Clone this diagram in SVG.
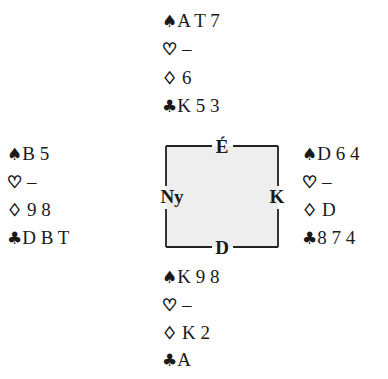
<svg xmlns="http://www.w3.org/2000/svg" width="388" height="379" viewBox="0 0 388 379">
<style>
.h{font-family:"Liberation Serif","Times New Roman",serif;font-size:19px;fill:#1a1a1a;}
.s{font-family:"DejaVu Sans",sans-serif;font-size:17px;}
.o{font-family:"DejaVu Sans",sans-serif;font-size:17px;stroke:#1a1a1a;stroke-width:0.9;}
.lbl{font-family:"Liberation Serif","Times New Roman",serif;font-size:19px;font-weight:bold;fill:#1a1a1a;text-anchor:middle;}
.edge{stroke:#222;stroke-width:1.8;fill:none;}
</style>
<rect width="388" height="379" fill="#ffffff"/>
<g id="table">
<rect x="166" y="146" width="112" height="101" fill="#eeeeee"/>
</g>
<g id="connectors">
<path class="edge" d="M166 146H212M233 146H278M278 146V186M278 209V247M278 247H233M212 247H166M166 247V209M166 186V146"/>
</g>
<g id="label-E"><text class="lbl" x="222" y="153">É</text></g>
<g id="label-D"><text class="lbl" x="222" y="254">D</text></g>
<g id="label-Ny"><text class="lbl" x="172" y="203">Ny</text></g>
<g id="label-K"><text class="lbl" x="277" y="203">K</text></g>
<g id="north">
<text class="h" x="162" y="27"><tspan class="s">♠</tspan>A T 7</text>
<text class="h" x="162" y="55"><tspan class="o">♡</tspan> –</text>
<text class="h" x="162" y="84"><tspan class="o">♢</tspan> 6</text>
<text class="h" x="162" y="112"><tspan class="s">♣</tspan>K 5 3</text>
</g>
<g id="west">
<text class="h" x="7" y="160"><tspan class="s">♠</tspan>B 5</text>
<text class="h" x="7" y="188"><tspan class="o">♡</tspan> –</text>
<text class="h" x="7" y="216"><tspan class="o">♢</tspan> 9 8</text>
<text class="h" x="7" y="244"><tspan class="s">♣</tspan>D B T</text>
</g>
<g id="east">
<text class="h" x="302" y="160"><tspan class="s">♠</tspan>D 6 4</text>
<text class="h" x="302" y="188"><tspan class="o">♡</tspan> –</text>
<text class="h" x="302" y="216"><tspan class="o">♢</tspan> D</text>
<text class="h" x="302" y="244"><tspan class="s">♣</tspan>8 7 4</text>
</g>
<g id="south">
<text class="h" x="162" y="283"><tspan class="s">♠</tspan>K 9 8</text>
<text class="h" x="162" y="311"><tspan class="o">♡</tspan> –</text>
<text class="h" x="162" y="339"><tspan class="o">♢</tspan> K 2</text>
<text class="h" x="162" y="366"><tspan class="s">♣</tspan>A</text>
</g>
</svg>
